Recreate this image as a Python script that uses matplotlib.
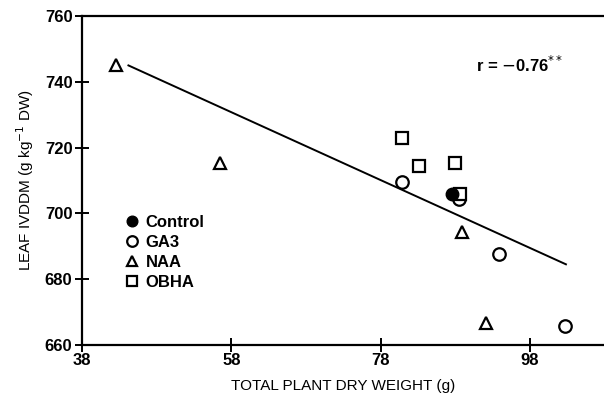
import matplotlib
matplotlib.use('Agg')
import matplotlib.pyplot as plt

plt.rcParams['font.family'] = ['Liberation Sans', 'DejaVu Sans']

# data
control_x = [87.6]
control_y = [706.0]
ga3_x = [80.8, 88.5, 93.8, 102.7]
ga3_y = [709.5, 704.5, 687.5, 665.7]
naa_x = [42.5, 56.4, 88.9, 92.1]
naa_y = [745.0, 715.2, 694.4, 666.8]
obha_x = [80.85, 83.1, 87.9, 88.6]
obha_y = [723.0, 714.5, 715.2, 706.0]
fit_x = [44.2, 102.8]
fit_y = [745.0, 684.5]

xticks = [38, 58, 78, 98]
yticks = [660, 680, 700, 720, 740, 760]

fig = plt.figure(figsize=(6.04, 4.13), dpi=100)
ax = fig.add_axes([0.136, 0.165, 0.864, 0.796])

ax.plot(fit_x, fit_y, color='black', lw=1.4)
# GA3 and OBHA first so the control dot sits on top
ax.plot(ga3_x, ga3_y, 'o', ms=9, mfc='white', mec='black', mew=1.6, ls='none', label='GA3')
ax.plot(naa_x, naa_y, '^', ms=8, mfc='white', mec='black', mew=1.6, ls='none', label='NAA')
ax.plot(obha_x, obha_y, 's', ms=8.5, mfc='white', mec='black', mew=1.6, ls='none', label='OBHA')
ax.plot(control_x, control_y, 'o', ms=9, mfc='black', mec='black', ls='none', label='Control')

ax.set_xlim(38, 107.9)
ax.set_ylim(660, 760)
ax.set_xticks(xticks)
ax.set_yticks(yticks)

ax.spines['right'].set_visible(False)
for s in ['left', 'bottom', 'top']:
    ax.spines[s].set_linewidth(1.6)
ax.tick_params(direction='inout', length=10, width=1.4, labelsize=12)
ax.tick_params(axis='x', pad=1)
ax.tick_params(axis='y', pad=2)
for lab in ax.get_xticklabels() + ax.get_yticklabels():
    lab.set_fontweight('bold')

ax.set_xlabel('TOTAL PLANT DRY WEIGHT (g)', fontsize=11, labelpad=8)
ax.set_ylabel(r'LEAF IVDDM (g kg$^{-1}$ DW)', fontsize=11, labelpad=6)

ax.text(90.7, 745, r'r = $-$0.76$^{**}$', fontsize=12, fontweight='bold', va='center')

h, l = ax.get_legend_handles_labels()
order = [3, 0, 1, 2]
leg = ax.legend([h[i] for i in order], [l[i] for i in order], loc='upper left',
                bbox_to_anchor=(0.05, 0.44), frameon=False, handletextpad=0.35,
                labelspacing=0.3, handlelength=1.0, fontsize=12, markerscale=0.85)
for t in leg.get_texts():
    t.set_fontweight('bold')

fig.savefig('out.png', dpi=100)
